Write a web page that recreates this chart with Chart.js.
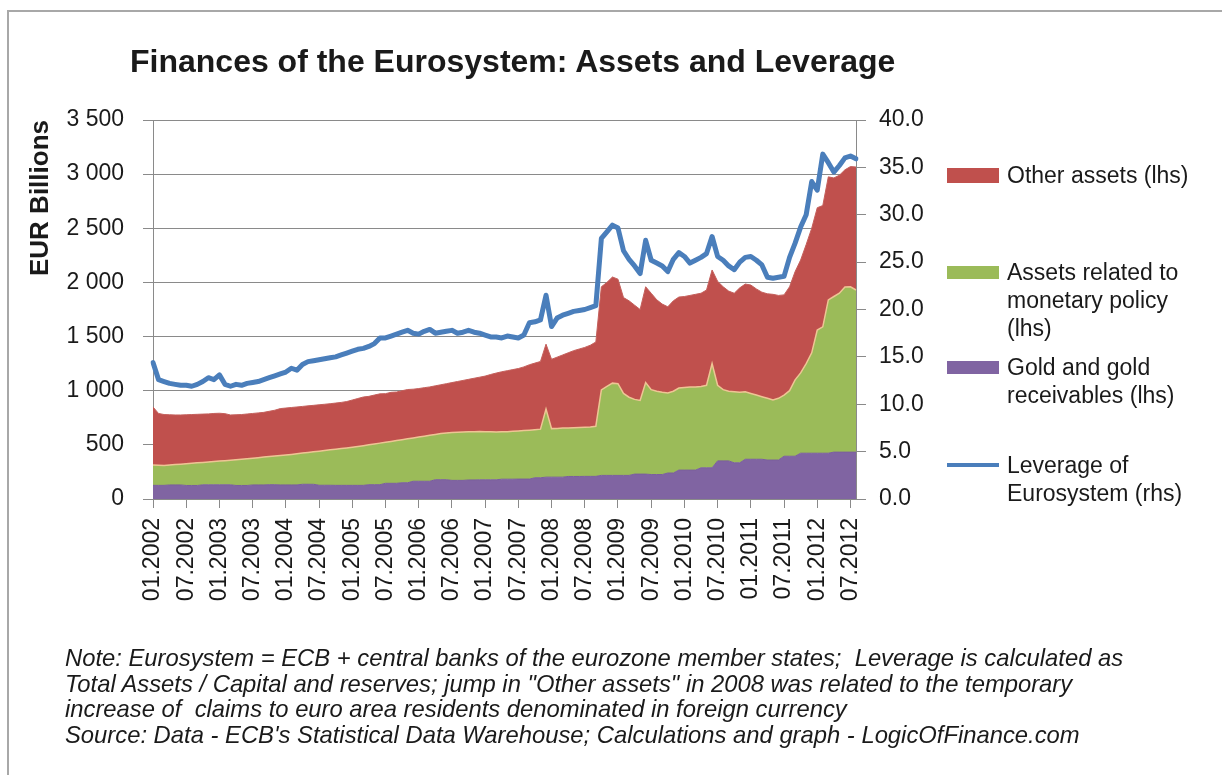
<!DOCTYPE html>
<html lang="en">
<head>
    <meta charset="utf-8">
    <title>Finances of the Eurosystem: Assets and Leverage</title>
    <script src="https://cdn.jsdelivr.net/npm/chart.js"></script>
    <style>
        body {
            margin: 0;
            background: #fff;
            font-family: 'Liberation Sans', Arial, sans-serif;
            color: #1a1a1a;
        }

        .page {
            position: relative;
            width: 1222px;
            height: 775px;
            overflow: hidden;
        }

        .frame {
            position: absolute;
            left: 7px;
            top: 10px;
            width: 1300px;
            height: 900px;
            border-left: 2px solid #a8a8a8;
            border-top: 2px solid #a8a8a8;
        }

        .chart-box {
            position: absolute;
            left: 0;
            top: 0;
            width: 1222px;
            height: 775px;
        }

        h1 {
            position: absolute;
            left: 130px;
            top: 42px;
            margin: 0;
            font-size: 32px;
            line-height: 38px;
            font-weight: bold;
            white-space: nowrap;
        }

        .legend-item {
            position: absolute;
            left: 947px;
        }

        .swatch {
            position: absolute;
            left: 0;
            width: 52px;
        }

        .legend-text {
            position: absolute;
            left: 60px;
            font-size: 23px;
            line-height: 28px;
            white-space: nowrap;
        }

        .note {
            position: absolute;
            left: 65px;
            top: 645px;
            font-size: 23.8px;
            line-height: 25.6px;
            font-style: italic;
            white-space: nowrap;
        }
    </style>
</head>
<body>
<div class="page">
    <div class="frame"></div>
    <div class="chart-box">
        <canvas id="eurosystemChart"></canvas>
    </div>

    <h1>Finances of the Eurosystem: Assets and Leverage</h1>

    <div class="legend-item" style="top:161px">
        <div class="swatch" style="top:7px;height:15px;background:#C0504D"></div>
        <div class="legend-text">Other assets (lhs)</div>
    </div>
    <div class="legend-item" style="top:258px">
        <div class="swatch" style="top:8px;height:13px;background:#9BBB59"></div>
        <div class="legend-text">Assets related to<br>monetary policy<br>(lhs)</div>
    </div>
    <div class="legend-item" style="top:353px">
        <div class="swatch" style="top:8px;height:13px;background:#8064A2"></div>
        <div class="legend-text">Gold and gold<br>receivables (lhs)</div>
    </div>
    <div class="legend-item" style="top:451px">
        <div class="swatch" style="top:12px;height:4px;background:#4A7EBB"></div>
        <div class="legend-text">Leverage of<br>Eurosystem (rhs)</div>
    </div>

    <div class="note">
        Note: Eurosystem = ECB + central banks of the eurozone member states;&nbsp; Leverage is calculated as<br>
        Total Assets / Capital and reserves; jump in "Other assets" in 2008 was related to the temporary<br>
        increase of &nbsp;claims to euro area residents denominated in foreign currency<br>
        Source: Data - ECB's Statistical Data Warehouse; Calculations and graph - LogicOfFinance.com
    </div>
</div>

<script>
    // monthly observations, 01.2002 - 08.2012 (EUR billions)
    const goldAssets = [
        126,126,126,130,130,130,125,125,125,131,131,131,
        131,131,131,125,125,125,130,130,130,132,132,130,
        130,130,130,136,136,136,127,127,127,126,126,126,
        126,126,126,132,132,132,145,145,145,150,150,164,
        164,164,164,178,178,178,172,172,172,176,176,177,
        177,177,177,183,183,183,184,184,184,196,196,202,
        202,202,202,208,208,208,209,209,209,218,218,218,
        218,218,218,230,230,230,226,226,226,240,240,267,
        267,267,267,288,288,288,352,352,352,334,334,367,
        367,367,367,360,360,360,395,395,395,423,423,423,
        423,423,423,433,433,433,433,433
    ];

    const monetaryPolicyAssets = [
        189,186,184,184,188,192,201,205,209,207,211,215,
        219,223,227,237,242,247,247,252,257,260,265,272,
        277,282,288,288,294,300,315,321,327,334,340,346,
        352,359,366,368,376,384,379,387,395,398,406,400,
        408,416,424,418,426,432,442,444,446,444,446,447,
        445,443,441,437,439,442,444,448,452,444,449,628,
        448,450,453,448,450,452,453,455,463,789,822,852,
        847,757,722,690,680,845,784,769,759,740,755,758,
        763,768,768,752,762,962,698,658,643,656,651,623,
        608,593,578,570,555,570,565,605,705,742,827,927,
        1137,1167,1415,1437,1467,1525,1527,1497
    ];

    const otherAssets = [
        535,478,470,464,458,454,452,450,448,446,444,444,
        442,434,418,416,413,413,413,413,413,418,423,433,
        433,433,432,431,430,429,428,427,426,426,426,428,
        436,443,450,448,452,455,449,453,448,452,455,450,
        448,448,447,449,451,455,461,469,477,485,493,501,
        513,530,545,555,563,570,577,588,604,615,625,600,
        640,658,675,694,712,725,738,756,778,953,960,980,
        965,885,890,870,840,885,890,845,815,795,835,840,
        840,845,855,860,880,865,960,950,925,910,965,995,
        1001,980,965,965,975,950,925,960,1000,1042,1100,1150,
        1130,1120,1137,1095,1090,1082,1110,1136
    ];

    // total assets / capital and reserves
    const leverage = [
        14.4,12.6,12.4,12.2,12.1,12.0,12.0,11.9,12.1,12.4,12.8,12.6,
        13.1,12.1,11.9,12.1,12.0,12.2,12.3,12.4,12.6,12.8,13.0,13.2,
        13.4,13.8,13.6,14.2,14.5,14.6,14.7,14.8,14.9,15.0,15.2,15.4,
        15.6,15.8,15.9,16.1,16.4,17.0,17.0,17.2,17.4,17.6,17.8,17.5,
        17.4,17.7,17.9,17.5,17.6,17.7,17.8,17.5,17.6,17.8,17.6,17.5,
        17.3,17.1,17.1,17.0,17.2,17.1,17.0,17.3,18.6,18.7,18.9,21.5,
        18.2,19.1,19.4,19.6,19.8,19.9,20.0,20.2,20.4,27.5,28.2,28.9,
        28.6,26.2,25.3,24.6,23.8,27.3,25.2,24.9,24.6,24.0,25.3,26.0,
        25.6,24.9,25.2,25.5,25.9,27.7,25.6,25.2,24.6,24.2,25.0,25.5,
        25.6,25.2,24.7,23.4,23.3,23.4,23.5,25.5,27.0,28.7,30.0,33.5,
        32.6,36.4,35.5,34.5,35.2,36.0,36.2,35.9
    ];

    const leftTickLabels = ['0', '500', '1 000', '1 500', '2 000', '2 500', '3 000', '3 500'];
    const rightTickLabels = ['0.0', '5.0', '10.0', '15.0', '20.0', '25.0', '30.0', '35.0', '40.0'];

    const months = [];
    for (let y = 2002; y <= 2012; y++) {
        for (let m = 1; m <= 12; m++) {
            if (y === 2012 && m > 8) break;
            months.push(String(m).padStart(2, '0') + '.' + y);
        }
    }

    const GRID = '#8a8a8a';
    const TEXT = '#1a1a1a';
    const tickFont = { family: "'Liberation Sans', Arial, sans-serif", size: 23 };

    // only January and July get a label and a tick mark
    const isHalfYear = i => months[i] && (months[i].startsWith('01.') || months[i].startsWith('07.'));

    new Chart(document.getElementById('eurosystemChart'), {
        type: 'line',
        data: {
            labels: months,
            datasets: [
                {
                    label: 'Leverage of Eurosystem (rhs)',
                    data: leverage,
                    yAxisID: 'y2',
                    borderColor: '#4A7EBB',
                    borderWidth: 5,
                    borderJoinStyle: 'round',
                    borderCapStyle: 'round',
                    fill: false,
                    pointRadius: 0,
                    tension: 0
                },
                {
                    label: 'Gold and gold receivables (lhs)',
                    data: goldAssets,
                    yAxisID: 'y',
                    backgroundColor: '#8064A2',
                    borderColor: '#7a5f9c',
                    borderWidth: 1,
                    fill: 'origin',
                    pointRadius: 0,
                    tension: 0
                },
                {
                    label: 'Assets related to monetary policy (lhs)',
                    data: monetaryPolicyAssets,
                    yAxisID: 'y',
                    backgroundColor: '#9BBB59',
                    borderColor: '#eec594',
                    borderWidth: 1.5,
                    fill: '-1',
                    pointRadius: 0,
                    tension: 0
                },
                {
                    label: 'Other assets (lhs)',
                    data: otherAssets,
                    yAxisID: 'y',
                    backgroundColor: '#C0504D',
                    borderColor: '#c4605c',
                    borderWidth: 1,
                    fill: '-1',
                    pointRadius: 0,
                    tension: 0
                }
            ]
        },
        options: {
            responsive: true,
            maintainAspectRatio: false,
            animation: false,
            layout: {
                padding: { top: 120, left: 0, right: 0, bottom: 0 }
            },
            plugins: {
                legend: { display: false },
                tooltip: { enabled: false },
                title: { display: false }
            },
            scales: {
                x: {
                    offset: false,
                    afterFit: scale => { scale.height = 276; },
                    grid: {
                        drawOnChartArea: false,
                        drawTicks: true,
                        tickLength: 9,
                        color: ctx => isHalfYear(ctx.index) ? GRID : 'rgba(0,0,0,0)'
                    },
                    border: { display: true, color: GRID, width: 1 },
                    ticks: {
                        autoSkip: false,
                        minRotation: 90,
                        maxRotation: 90,
                        padding: 10,
                        color: TEXT,
                        font: tickFont,
                        callback: (value, index) => isHalfYear(index) ? months[index] : ''
                    }
                },
                y: {
                    position: 'left',
                    stacked: true,
                    min: 0,
                    max: 3500,
                    afterFit: scale => { scale.width = 153; },
                    grid: { color: GRID, tickLength: 10 },
                    border: { display: true, color: GRID },
                    ticks: {
                        stepSize: 500,
                        padding: 19,
                        color: TEXT,
                        font: tickFont,
                        callback: (value, index) => leftTickLabels[index]
                    },
                    title: {
                        display: true,
                        text: 'EUR Billions',
                        align: 'end',
                        color: TEXT,
                        padding: { top: 25, bottom: 0 },
                        font: { family: "'Liberation Sans', Arial, sans-serif", size: 26, weight: 'bold' }
                    }
                },
                y2: {
                    position: 'right',
                    min: 0,
                    max: 40,
                    afterFit: scale => { scale.width = 366; },
                    grid: { drawOnChartArea: false, color: GRID, tickLength: 10 },
                    border: { display: true, color: GRID },
                    ticks: {
                        stepSize: 5,
                        padding: 13,
                        color: TEXT,
                        font: tickFont,
                        callback: (value, index) => rightTickLabels[index]
                    }
                }
            }
        }
    });
</script>
</body>
</html>
